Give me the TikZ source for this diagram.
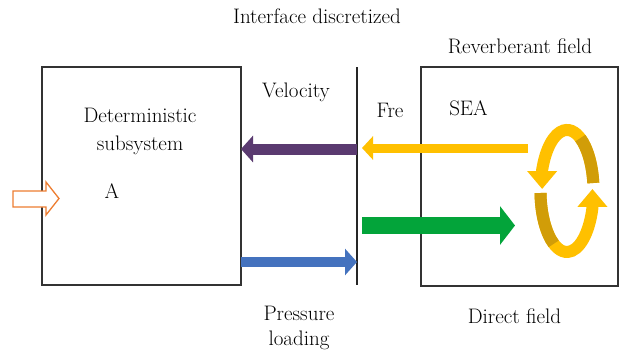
\documentclass[tikz,border=0pt]{standalone}
\usepackage{fontspec}
\setmainfont{Latin Modern Roman}
\usepackage{tikz}
\usetikzlibrary{arrows.meta}
\usetikzlibrary{positioning}
\definecolor{velocitycol}{RGB}{90,58,112}
\definecolor{pressurecol}{RGB}{68,114,190}
\definecolor{frecol}{RGB}{255,192,0}
\definecolor{directcol}{RGB}{3,164,58}
\definecolor{ringshade}{RGB}{209,157,8}
\definecolor{inputcol}{RGB}{237,125,49}
\tikzset{
    box/.style={
           rectangle,
           draw=black!80, line width=1.1pt,
           inner sep=0pt, outer sep=0pt,
           },
    wall/.style={draw=black!85, line width=1.1pt},
    txt/.style={
           font=\fontsize{21}{28}\selectfont,
           align=center,
           anchor=base,
           inner sep=0pt,
           },
    block/.style args={#1/#2/#3}{line width=#1, -{Triangle[length=#2,width=#3]}},
    ring/.style={draw=frecol, line width=12pt},
    hollow/.style={draw=inputcol, line width=1.3pt, fill=white},
}

\begin{document}
\begin{tikzpicture}[x=1pt,y=-1pt]
 \useasboundingbox (0,0) rectangle (619,351);

 % the two subsystems
 \node[box, minimum width=199pt, minimum height=218pt] (Det box) at (141.5,176) {};
 \node[box, minimum width=197pt, minimum height=219pt] (SEA box) at (519.5,176.5) {};

 % discretized interface
 \coordinate (Interface top) at (357,67);
 \coordinate (Interface bottom) at (357,285);
 \draw[wall] (Interface top) -- (Interface bottom);

 % texts (base = baseline of the last line)
 \node[txt] (Interface label) at (317,23) {Interface discretized};
 \node[txt] (Reverberant label) at (520,53) {Reverberant field};
 \node[txt] (Velocity label) at (296,97) {Velocity};
 \node[txt] (Fre label) at (390,117) {Fre};
 \node[txt] (SEA label) at (468.5,115) {SEA};
 \node[txt] (Det label) at (140,150) {Deterministic\\subsystem};
 \node[txt] (A label) at (112,198) {A};
 \node[txt, font=\fontsize{21}{25}\selectfont] (Pressure label) at (299,345) {Pressure\\loading};
 \node[txt] (Direct label) at (514.5,323) {Direct field};

 % coupling across the interface
 \coordinate (Velocity in) at (357,149);
 \coordinate (Pressure out) at (357,262);
 \draw[block={11pt/12pt/26pt}, velocitycol] (Velocity in) -- (Velocity in -| Det box.east);
 \draw[block={10pt/12pt/26pt}, pressurecol] (Pressure out -| Det box.east) -- (Pressure out);

 % fields of the SEA subsystem
 \coordinate (Fre start) at (528,148);
 \coordinate (Fre end) at (362,148);
 \draw[block={9pt/11pt/23pt}, frecol] (Fre start) -- (Fre end);
 \coordinate (Direct start) at (362,225.5);
 \coordinate (Direct end) at (515,225.5);
 \draw[block={17pt/15pt/38pt}, directcol] (Direct start) -- (Direct end);

 % reverberant ring
 \coordinate (Ring upper) at (593.3,183);
 \coordinate (Ring lower) at (540.5,193);
 \draw[ring, -{Triangle[length=18pt,width=29pt]}, frecol] (Ring upper)
   arc[start angle=352.5, end angle=200.1, x radius=26.5, y radius=61] -- ++(0,19);
 \draw[ring, draw=ringshade] (Ring upper)
   arc[start angle=352.5, end angle=300, x radius=26.5, y radius=61];
 \draw[ring, -{Triangle[length=18pt,width=29pt]}, frecol] (Ring lower)
   arc[start angle=178.1, end angle=16.2, x radius=26.5, y radius=61] -- ++(0,-19);
 \draw[ring, draw=ringshade] (Ring lower)
   arc[start angle=178.1, end angle=120, x radius=26.5, y radius=61];

 % input excitation
 \coordinate (Excitation) at (59,198.5);
 \draw[hollow] (Excitation) -- ++(-13,-16.5) -- ++(0,9) -- ++(-33,0) -- ++(0,16)
   -- ++(33,0) -- ++(0,8) -- cycle;

\end{tikzpicture}
\end{document}
